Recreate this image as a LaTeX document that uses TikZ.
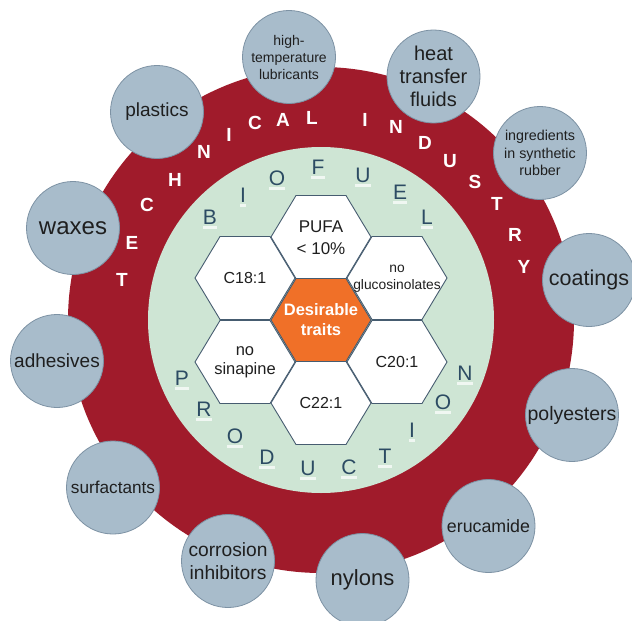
\documentclass[tikz,border=0pt]{standalone}
\usepackage{fontspec}
\setmainfont{Liberation Sans}
\usetikzlibrary{shapes.geometric}
\definecolor{ringred}{RGB}{160,27,43}
\definecolor{ringgreen}{RGB}{206,229,212}
\definecolor{bubble}{RGB}{168,188,203}
\definecolor{bubbleline}{RGB}{125,146,164}
\definecolor{hexline}{RGB}{70,92,112}
\definecolor{hexorange}{RGB}{240,112,40}
\definecolor{slate}{RGB}{44,75,99}
\newcommand\myfs[2]{\fontsize{#1}{#2}\selectfont}
\begin{document}
\begin{tikzpicture}[x=1pt,y=-1pt,
  bubblenode/.style={circle,fill=bubble,draw=bubbleline,line width=0.8pt,minimum size=93pt,inner sep=0pt,align=center,text=black!88},
  hextext/.style={align=center,inner sep=0pt,text=black!88},
  techletter/.style={text=white,font=\myfs{19}{22}\bfseries,inner sep=0pt},
  bioletter/.style={text=slate,font=\myfs{21}{24},inner sep=0pt},
  glint/.style={fill=white,opacity=0.7},
  hexshape/.style={draw=hexline,line width=0.9pt}]
\useasboundingbox (0,0) rectangle (632,621);
\fill[white] (0,0) rectangle (632,621);
% rings
\fill[ringred] (321,320) circle[radius=253];
\fill[ringgreen] (321,320) circle[radius=173];
% bubbles
\node[bubblenode,font=\myfs{14}{17}] (lub) at (289,57) {high-\\temperature\\lubricants};
\node[bubblenode,font=\myfs{19}{23}] (pla) at (157,112) {plastics};
\node[bubblenode,font=\myfs{24}{28}] (wax) at (73,228) {waxes};
\node[bubblenode,font=\myfs{20}{23}] (heat) at (433.5,76.5) {heat\\transfer\\fluids};
\node[bubblenode,font=\myfs{14.3}{17.5}] (ing) at (540,153) {ingredients\\in synthetic\\rubber};
\node[bubblenode,font=\myfs{21.5}{25}] (coa) at (589,280) {coatings};
\node[bubblenode,font=\myfs{19}{23}] (adh) at (57,361) {adhesives};
\node[bubblenode,font=\myfs{17.2}{21}] (sur) at (113,487.5) {surfactants};
\node[bubblenode,font=\myfs{19.2}{23}] (cor) at (228,561) {corrosion\\inhibitors};
\node[bubblenode,font=\myfs{19.5}{23}] (pol) at (572,415) {polyesters};
\node[bubblenode,font=\myfs{17.8}{21}] (eru) at (488.5,526) {erucamide};
\node[bubblenode,font=\myfs{22}{26}] (nyl) at (362.5,580) {nylons};
% TECHNICAL INDUSTRY
\foreach \ch/\x/\y [count=\i] in {T/122/280,E/132/243,C/147/205,H/175/180,N/204/152,I/229/135,C/255/123,A/283/120,L/312/118,I/365/120,N/396/127,D/425/143,U/450/161,S/475/182,T/497/204,R/515/235,Y/524/267}
  \node[techletter] (tech\i) at (\x,\y) {\ch};
% BIOFUEL PRODUCTION
\foreach \ch/\x/\y [count=\i] in {B/210/217,I/243/195,O/277/178,F/318/167,U/363/175,E/400/192,L/427/217}{
  \node[bioletter] (bio\i) at (\x,\y) {\ch};
  \fill[glint] ([yshift=-1.5pt]bio\i.south west) rectangle ([yshift=-4.5pt]bio\i.south east);
}
\foreach \ch/\x/\y [count=\i] in {P/182/378,R/204/409,O/235/436,D/267/457,U/308/468,C/349/467,T/385/456,I/412/430,O/443/402,N/465/373}{
  \node[bioletter] (prod\i) at (\x,\y) {\ch};
  \fill[glint] ([yshift=-1.5pt]prod\i.south west) rectangle ([yshift=-4.5pt]prod\i.south east);
}
% hexagons
\foreach \x/\y in {321/237,245/278,397/278,245/362,397/362,321/403}
  \draw[hexshape,fill=white] (\x-50,\y) -- (\x-25,\y-41.5) -- (\x+25,\y-41.5) -- (\x+50,\y) -- (\x+25,\y+41.5) -- (\x-25,\y+41.5) -- cycle;
\draw[hexshape,fill=hexorange] (271,320) -- (296,278.5) -- (346,278.5) -- (371,320) -- (346,361.5) -- (296,361.5) -- cycle;
\node[hextext,font=\myfs{17}{21.5}] (pufa) at (321,237.5) {PUFA\\< 10\%};
\node[hextext,font=\myfs{16}{19}] (c181) at (245,278) {C18:1};
\node[hextext,font=\myfs{13.8}{17}] (gluc) at (397,278.5) {no\\glucosinolates};
\node[hextext,font=\myfs{16.5}{20}\bfseries,text=white] (des) at (321,320) {Desirable\\traits};
\node[hextext,font=\myfs{16.5}{19}] (sin) at (245,362.5) {no\\sinapine};
\node[hextext,font=\myfs{16}{19}] (c201) at (397,362) {C20:1};
\node[hextext,font=\myfs{16}{19}] (c221) at (321,403) {C22:1};
\end{tikzpicture}
\end{document}
